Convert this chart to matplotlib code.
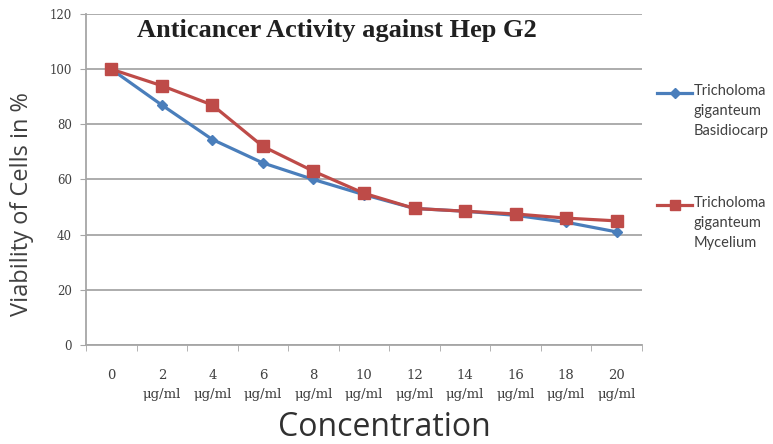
import matplotlib
matplotlib.use("Agg")
import matplotlib.pyplot as plt
from matplotlib.lines import Line2D

# data
conc = ["0", "2", "4", "6", "8", "10", "12", "14", "16", "18", "20"]
basidiocarp = [100, 87, 74.5, 66, 60, 54.5, 49.5, 48.5, 47, 44.5, 41]
mycelium = [100, 94, 87, 72, 63, 55, 49.5, 48.5, 47.5, 46, 45]
series_names = ["Tricholoma\ngiganteum\nBasidiocarp", "Tricholoma\ngiganteum\nMycelium"]
y_ticks = [0, 20, 40, 60, 80, 100, 120]

BLUE = "#4A7EBB"
RED = "#BE4B48"
GRID = "#A6A6A6"
TXT = "#404040"


def main():
    fig = plt.figure(figsize=(7.73, 4.44), dpi=100)
    ax = fig.add_axes([86 / 773, 1 - 345 / 444, (642 - 86) / 773, (345 - 14) / 444])

    x = list(range(len(conc)))
    ax.plot(x, basidiocarp, color=BLUE, lw=2.3, marker="D", ms=5.5,
            markerfacecolor=BLUE, markeredgecolor=BLUE)
    ax.plot(x, mycelium, color=RED, lw=2.3, marker="s", ms=8.5,
            markerfacecolor=RED, markeredgecolor=RED)

    ax.set_xlim(-0.5, len(conc) - 0.5)
    ax.set_ylim(0, 120)
    ax.set_yticks(y_ticks)
    ax.yaxis.grid(True, color=GRID, lw=1.3)
    ax.set_axisbelow(True)

    labels = [c if c == "0" else f"{c}\nμg/ml" for c in conc]
    ax.set_xticks(x)
    ax.set_xticklabels(labels, family="DejaVu Serif", fontsize=9.5,
                       color=TXT, va="top", linespacing=1.6)
    ax.tick_params(axis="x", length=0, pad=17)
    ax.set_xticks([i - 0.5 for i in range(len(conc) + 1)], minor=True)
    ax.tick_params(axis="x", which="minor", length=4, color=GRID)
    ax.tick_params(axis="y", length=4, color=GRID, pad=6)
    for t in ax.get_yticklabels():
        t.set_family("DejaVu Serif")
        t.set_fontsize(8.5)
        t.set_color(TXT)

    for s in ["top", "right"]:
        ax.spines[s].set_visible(False)
    for s in ["left", "bottom"]:
        ax.spines[s].set_color(GRID)
        ax.spines[s].set_linewidth(1.3)

    ax.text((337 - 86) / 556, (345 - 31) / 331, "Anticancer Activity against Hep G2",
            transform=ax.transAxes, ha="center", va="center",
            family="Liberation Serif", fontweight="bold", fontsize=19, color="#202020")

    fig.text(22 / 773, 1 - 204 / 444, "Viability of Cells in %", rotation=90,
             ha="center", va="center", family="Open Sans", fontsize=17, color=TXT)
    fig.text(384 / 773, 1 - 436 / 444, "Concentration", ha="center", va="baseline",
             family="Open Sans", fontsize=23, color="#303030")

    # legend, drawn by hand so the marker sits on the first text line
    for name, col, mk, ms, ypx in [(series_names[0], BLUE, "D", 5, 93),
                                   (series_names[1], RED, "s", 7.5, 205)]:
        yf = 1 - ypx / 444
        fig.add_artist(Line2D([657 / 773, 692 / 773], [yf, yf], color=col, lw=2.3,
                              transform=fig.transFigure))
        fig.add_artist(Line2D([674.5 / 773], [yf], color=col, marker=mk, ms=ms,
                              transform=fig.transFigure))
        fig.text(694 / 773, yf + 9 / 444, name, ha="left", va="top",
                 family="Lato", fontsize=10.5, color=TXT, linespacing=1.55)

    fig.savefig("out.png", dpi=100)
    plt.close(fig)


if __name__ == "__main__":
    main()
